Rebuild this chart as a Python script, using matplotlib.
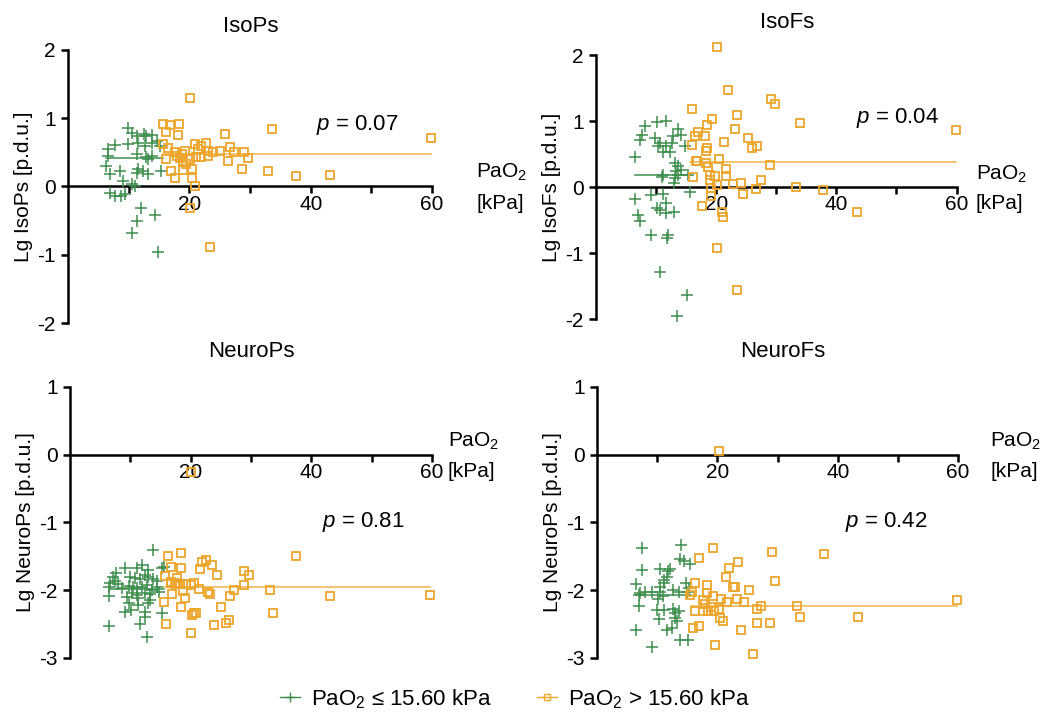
import numpy as np
import matplotlib
matplotlib.use("Agg")
import matplotlib.pyplot as plt
from matplotlib.lines import Line2D

plt.rcParams['font.family'] = ['Liberation Sans', 'DejaVu Sans']
plt.rcParams['mathtext.fontset'] = 'custom'
plt.rcParams['mathtext.rm'] = 'Liberation Sans'
plt.rcParams['mathtext.it'] = 'Liberation Sans:italic'
plt.rcParams['axes.unicode_minus'] = False

GREEN = '#3e8e4e'
ORANGE = '#eda62b'

titles = ['IsoPs', 'IsoFs', 'NeuroPs', 'NeuroFs']
ylabels = ['Lg IsoPs [p.d.u.]', 'Lg IsoFs [p.d.u.]', 'Lg NeuroPs [p.d.u.]', 'Lg NeuroPs [p.d.u.]']
p_texts = ['0.07', '0.04', '0.81', '0.42']
ylims = [(-2, 2), (-2, 2), (-3, 1), (-3, 1)]
mean_lo = [0.42, 0.18, -1.98, -2.07]
mean_hi = [0.48, 0.38, -1.95, -2.24]

# IsoPs
isops_lo_x = [9.9, 10.5, 11.3, 12.5, 12.9, 13.8, 9.9, 11.6, 12.7, 13.8, 14.6, 15.1, 6.6, 7.7,
              6.6, 11.3, 12.9, 13.2, 13.9, 6.3, 6.9, 8.5, 11.3, 11.6, 12.4, 13.2, 15.4, 9.1,
              10.5, 11.0, 6.9, 7.7, 8.8, 9.4, 12.0, 14.3, 11.4, 10.5, 14.9]
isops_lo_y = [0.86, 0.78, 0.74, 0.77, 0.74, 0.76, 0.62, 0.63, 0.59, 0.64, 0.67, 0.59, 0.55, 0.61,
              0.45, 0.47, 0.43, 0.40, 0.45, 0.30, 0.18, 0.22, 0.20, 0.25, 0.23, 0.19, 0.23, 0.08,
              0.03, 0.01, -0.09, -0.14, -0.14, -0.11, -0.32, -0.42, -0.50, -0.68, -0.96]
isops_hi_x = [20.1, 15.7, 16.8, 18.3, 16.2, 18.1, 25.9, 33.7, 59.8, 15.7, 16.5, 17.6, 17.9, 18.4,
              18.8, 19.3, 16.1, 19.0, 19.5, 20.1, 20.9, 22.0, 22.8, 21.5, 23.1, 21.1, 22.0, 23.1,
              23.9, 25.1, 26.7, 27.4, 29.0, 29.7, 26.4, 16.9, 17.6, 19.0, 20.5, 20.5, 20.9, 28.7,
              33.0, 37.5, 43.2, 23.4, 20.1]
isops_hi_y = [1.29, 0.92, 0.90, 0.92, 0.80, 0.76, 0.77, 0.84, 0.71, 0.62, 0.56, 0.50, 0.45, 0.42,
              0.47, 0.52, 0.40, 0.37, 0.33, 0.40, 0.62, 0.59, 0.64, 0.55, 0.52, 0.43, 0.43, 0.45,
              0.50, 0.52, 0.58, 0.51, 0.51, 0.42, 0.38, 0.22, 0.13, 0.24, 0.25, 0.13, 0.01, 0.25,
              0.22, 0.15, 0.17, -0.88, -0.32]

# IsoFs
isofs_lo_x = [8.1, 10.1, 11.6, 7.7, 7.3, 9.8, 10.6, 10.3, 11.6, 12.6, 13.7, 14.1, 12.8, 14.8,
              11.2, 12.3, 6.5, 13.1, 13.7, 14.1, 13.3, 10.9, 11.2, 13.1, 13.7, 15.3, 12.9, 15.7,
              6.5, 9.1, 11.2, 11.7, 10.1, 10.6, 11.6, 12.9, 7.0, 7.3, 9.1, 12.0, 11.8, 10.6,
              15.2, 13.4]
isofs_lo_y = [0.93, 0.98, 1.01, 0.79, 0.72, 0.74, 0.67, 0.62, 0.63, 0.67, 0.88, 0.79, 0.77, 0.63,
              0.54, 0.53, 0.45, 0.36, 0.32, 0.26, 0.24, 0.16, 0.19, 0.14, 0.19, 0.19, 0.06, -0.07,
              -0.18, -0.12, -0.10, -0.24, -0.32, -0.35, -0.39, -0.38, -0.42, -0.52, -0.72, -0.72,
              -0.77, -1.29, -1.64, -1.95]
isofs_hi_x = [20.2, 22.0, 29.1, 29.8, 15.9, 23.4, 19.3, 18.5, 33.9, 23.1, 17.0, 16.4, 18.1, 15.9,
              21.3, 25.3, 26.0, 26.8, 18.5, 18.3, 20.4, 16.8, 16.6, 18.3, 28.9, 18.7, 16.1, 21.6,
              21.6, 18.9, 19.8, 19.0, 20.2, 22.8, 24.1, 27.4, 19.2, 26.6, 24.5, 19.2, 33.3, 37.7,
              43.4, 17.7, 20.9, 21.1, 20.2, 23.5, 59.9]
isofs_hi_y = [2.12, 1.47, 1.33, 1.26, 1.18, 1.09, 1.03, 0.94, 0.97, 0.88, 0.83, 0.77, 0.77, 0.64,
              0.69, 0.75, 0.59, 0.62, 0.59, 0.55, 0.42, 0.40, 0.40, 0.37, 0.34, 0.31, 0.15, 0.28,
              0.17, 0.19, 0.17, 0.11, 0.03, 0.05, 0.06, 0.11, -0.02, -0.03, -0.10, -0.13, 0.00,
              -0.04, -0.38, -0.29, -0.38, -0.45, -0.93, -1.56, 0.87]

# NeuroPs
neurops_lo_x = [13.8, 7.7, 9.1, 11.1, 12.0, 13.0, 15.2, 15.5, 7.2, 7.5, 6.6, 8.0, 10.0, 10.8,
                11.6, 12.4, 13.0, 13.8, 14.4, 9.7, 10.5, 11.1, 11.9, 12.7, 13.6, 14.4, 6.4, 8.6,
                10.2, 11.1, 12.4, 13.3, 14.7, 6.4, 9.4, 11.3, 13.3, 9.7, 11.3, 13.0, 9.1, 10.1,
                12.4, 15.2, 12.4, 11.6, 6.4, 12.7]
neurops_lo_y = [-1.41, -1.75, -1.67, -1.67, -1.63, -1.70, -1.67, -1.65, -1.80, -1.87, -1.90,
                -1.91, -1.80, -1.82, -1.84, -1.77, -1.80, -1.84, -1.87, -1.94, -1.95, -1.97,
                -1.95, -1.92, -1.99, -1.95, -1.95, -1.97, -2.04, -2.07, -2.04, -2.05, -2.02,
                -2.09, -2.10, -2.12, -2.14, -2.19, -2.22, -2.19, -2.32, -2.29, -2.32, -2.34,
                -2.40, -2.50, -2.53, -2.69]
neurops_hi_x = [20.1, 37.5, 16.2, 18.4, 16.8, 18.4, 21.8, 22.6, 23.5, 21.5, 24.3, 28.9, 29.7,
                15.8, 16.8, 17.8, 17.8, 16.7, 17.4, 18.2, 19.2, 20.1, 20.6, 21.4, 22.9, 23.2,
                27.2, 28.8, 33.1, 43.1, 59.7, 16.9, 18.8, 19.1, 26.5, 15.6, 18.4, 25.0, 33.7,
                20.5, 20.2, 20.9, 15.9, 23.8, 25.8, 26.4, 20.1]
neurops_hi_y = [-0.25, -1.49, -1.50, -1.45, -1.65, -1.67, -1.59, -1.55, -1.63, -1.69, -1.78,
                -1.71, -1.77, -1.79, -1.88, -1.82, -1.90, -1.90, -1.91, -1.91, -1.91, -1.92,
                -1.90, -1.98, -2.02, -2.05, -1.99, -1.92, -2.00, -2.08, -2.07, -2.05, -2.01,
                -2.12, -2.08, -2.18, -2.25, -2.25, -2.34, -2.34, -2.37, -2.33, -2.50, -2.51,
                -2.48, -2.44, -2.63]

# NeuroFs
neurofs_lo_x = [7.4, 14.0, 13.8, 14.4, 15.5, 7.5, 10.4, 11.8, 12.2, 11.6, 11.1, 6.5, 8.0, 6.9,
                7.2, 9.1, 10.5, 12.7, 13.6, 14.7, 14.9, 15.2, 10.1, 10.9, 6.9, 10.0, 11.1, 12.7,
                13.0, 13.6, 10.3, 13.0, 13.3, 6.5, 11.6, 12.5, 13.8, 15.1, 9.1, 10.5, 11.1]
neurofs_lo_y = [-1.38, -1.33, -1.54, -1.57, -1.61, -1.70, -1.69, -1.72, -1.69, -1.80, -1.85,
                -1.91, -2.02, -2.07, -2.04, -2.02, -2.02, -1.99, -2.02, -1.90, -2.03, -1.97,
                -2.13, -2.09, -2.24, -2.29, -2.29, -2.28, -2.33, -2.30, -2.43, -2.41, -2.46,
                -2.59, -2.58, -2.56, -2.74, -2.73, -2.84, -1.95, -1.89]
neurofs_hi_x = [20.2, 19.2, 16.9, 29.0, 37.7, 23.5, 22.0, 21.4, 29.6, 16.2, 18.3, 15.8, 15.5,
                22.6, 23.0, 25.2, 18.3, 19.2, 17.6, 20.6, 21.6, 23.3, 24.4, 16.3, 17.6, 18.4,
                19.5, 20.2, 18.0, 19.0, 26.6, 27.3, 33.2, 33.7, 43.3, 59.8, 20.5, 21.0, 16.9,
                16.0, 23.9, 26.5, 28.7, 19.6, 25.9]
neurofs_hi_y = [0.06, -1.38, -1.52, -1.44, -1.47, -1.59, -1.67, -1.80, -1.86, -1.90, -1.93,
                -2.02, -2.07, -1.95, -1.95, -2.00, -2.04, -2.09, -2.14, -2.13, -2.17, -2.13,
                -2.18, -2.30, -2.30, -2.30, -2.30, -2.27, -2.20, -2.25, -2.28, -2.23, -2.24,
                -2.40, -2.39, -2.14, -2.41, -2.46, -2.53, -2.56, -2.59, -2.48, -2.49, -2.81,
                -2.94]

lo_x = [isops_lo_x, isofs_lo_x, neurops_lo_x, neurofs_lo_x]
lo_y = [isops_lo_y, isofs_lo_y, neurops_lo_y, neurofs_lo_y]
hi_x = [isops_hi_x, isofs_hi_x, neurops_hi_x, neurofs_hi_x]
hi_y = [isops_hi_y, isofs_hi_y, neurops_hi_y, neurofs_hi_y]

# axes boxes [left, bottom, width, height] in figure fractions
boxes = [[0.0653, 0.5495, 0.3493, 0.3808],
         [0.572, 0.555, 0.346, 0.368],
         [0.0672, 0.0823, 0.3474, 0.378],
         [0.573, 0.0823, 0.3465, 0.378]]
title_pos = [(0.241, 0.963), (0.755, 0.968), (0.241, 0.510), (0.751, 0.510)]
kpa_x = [67.3, 63.2, 62.6, 65.3]
p_pos = [(40.9, 0.9), (43.2, 1.05), (41.7, -1.0), (41.2, -1.0)]

fig = plt.figure(figsize=(10.42, 7.17), dpi=100)

for i in range(4):
    ax = fig.add_axes(boxes[i])
    ax.set_xlim(0, 60)
    ax.set_ylim(*ylims[i])

    ax.plot(lo_x[i], lo_y[i], linestyle='None', marker='+', markersize=8, mew=1.1,
            color=GREEN, clip_on=False, zorder=3)
    ax.plot(hi_x[i], hi_y[i], linestyle='None', marker='s', markersize=6, mew=1.3,
            mfc='none', mec=ORANGE, clip_on=False, zorder=3)
    ax.plot([min(lo_x[i]), 15.6], [mean_lo[i]] * 2, color=GREEN, lw=1.1, zorder=2)
    ax.plot([15.6, max(hi_x[i])], [mean_hi[i]] * 2, color=ORANGE, lw=1.1, alpha=0.85, zorder=2)

    for s in ['top', 'right']:
        ax.spines[s].set_visible(False)
    ax.spines['bottom'].set_position(('data', 0))
    ax.spines['left'].set_linewidth(1.8)
    ax.spines['bottom'].set_linewidth(1.8)

    ax.set_xticks([10, 20, 30, 40, 50, 60])
    ax.set_xticklabels(['', '20', '', '40', '', '60'])
    lo, hi = ylims[i]
    ax.set_yticks(np.arange(lo, hi + 1))
    ax.tick_params(axis='both', direction='out', length=5, width=1.8, labelsize=15, pad=4)
    ax.tick_params(axis='x', pad=1)

    ax.set_ylabel(ylabels[i], fontsize=15, labelpad=3)
    fig.text(title_pos[i][0], title_pos[i][1], titles[i], fontsize=16,
             ha='center', va='center')

    ax.text(kpa_x[i], 0.2, 'PaO$_2$', fontsize=15, ha='left', va='center', clip_on=False)
    ax.text(kpa_x[i], -0.25, '[kPa]', fontsize=15, ha='left', va='center', clip_on=False)
    ax.text(p_pos[i][0], p_pos[i][1], '$p$ = ' + p_texts[i], fontsize=16,
            ha='left', va='center')

handles = [Line2D([0], [0], color=GREEN, lw=1, marker='+', markersize=7, mew=1),
           Line2D([0], [0], color=ORANGE, lw=1, marker='s', markersize=5, mfc='none',
                  mec=ORANGE)]
fig.legend(handles, ['PaO$_2$ ≤ 15.60 kPa', 'PaO$_2$ > 15.60 kPa'], loc='center',
           bbox_to_anchor=(0.494, 0.025), ncol=2, frameon=False, fontsize=16,
           handlelength=0.9, columnspacing=2.0, handletextpad=0.5)

fig.savefig('out.png', dpi=100)
